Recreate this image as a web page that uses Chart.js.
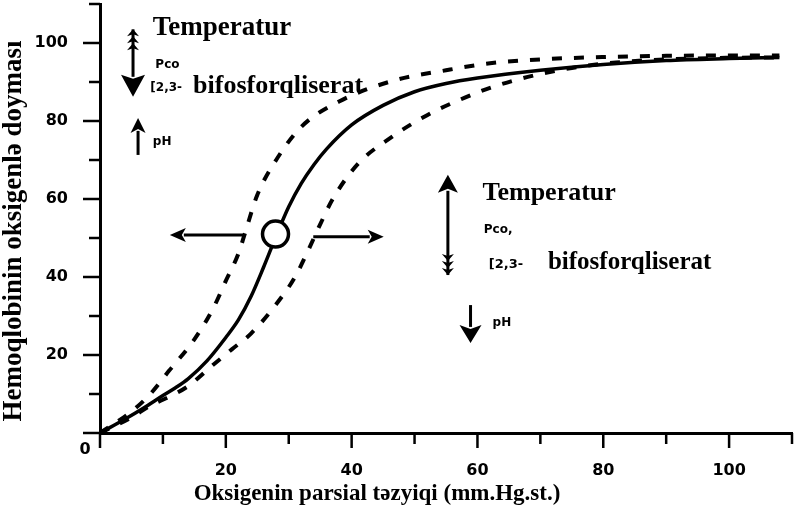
<!DOCTYPE html>
<html>
<head>
<meta charset="utf-8">
<script src="https://cdn.jsdelivr.net/npm/chart.js@4.4.1/dist/chart.umd.min.js"></script>
<style>
  html, body { margin: 0; padding: 0; background: #fff; }
  #wrap { width: 794px; height: 517px; }
</style>
</head>
<body>
<div id="wrap"><canvas id="curveChart" width="794" height="517"></canvas></div>
<script>
// normal curve
const solidX = [0, 4, 7, 10, 12, 14, 17, 20, 22, 24, 26, 28, 30, 32, 34, 36, 40, 45, 50, 55, 60, 70, 80, 90, 100, 108];
const solidY = [0, 3.6, 6.5, 9.6, 11.6, 13.9, 18.5, 24.5, 29, 35, 42.5, 50.5, 58, 64, 68.8, 72.8, 79, 84, 87.5, 89.6, 91, 93, 94.5, 95.5, 96, 96.3];

// shifted left
const leftX = [0, 5, 8, 11, 15, 18, 20, 22, 23, 25, 28, 32, 38, 47, 55, 62, 70, 80, 90, 100, 108];
const leftY = [0, 5.5, 10, 16, 24, 32, 39, 46, 51, 61, 70, 78.5, 85, 90.5, 93, 94.8, 95.8, 96.4, 96.7, 96.8, 96.8];

// shifted right
const rightX = [0, 5, 8, 11, 14, 18, 21, 24, 28, 31, 33, 35, 37, 41, 46, 52, 58, 62, 68, 75, 82, 90, 100, 108];
const rightY = [0, 4, 7, 9.3, 12, 17.5, 21.5, 25.5, 33, 40, 46.5, 53.5, 60, 69, 75.5, 81.5, 86, 88.5, 91.3, 93.6, 95, 95.8, 96.2, 96.3];

// P50 point
const p50X = [27.9];
const p50Y = [51];

const tickLabels = [20, 40, 60, 80, 100];

const LINE_COLOR = '#000';
const SERIF = '"Liberation Serif", "DejaVu Serif", serif';
const SANS = '"DejaVu Sans", "Liberation Sans", sans-serif';

const toPoints = function (xs, ys) {
    return xs.map(function (x, i) {
        return { x: x, y: ys[i] };
    });
}

// annotation arrows, in data units: tail -> tip
const arrows = [
    { from: [5.25, 103.5], to: [5.25, 86.2], head: [22, 24], fletch: true },
    { from: [6.05, 71.3], to: [6.05, 80.8], head: [15, 15] },
    { from: [55.3, 40.5], to: [55.3, 66.2], head: [18, 20], fletch: true },
    { from: [58.9, 32.8], to: [58.9, 23.1], head: [18, 22] },
    { from: [22.8, 50.8], to: [11.1, 50.8], head: [16, 14] },
    { from: [33.9, 50.3], to: [45.1, 50.3], head: [16, 14] }
];

// annotation texts, left-middle anchored, in data units
const notes = [
    { text: 'Temperatur', at: [8.4, 103.8], font: 'bold 27px ' + SERIF },
    { text: 'Pco', at: [8.8, 94.4], font: 'bold 12px ' + SANS },
    { text: '[2,3-', at: [8.0, 88.6], font: 'bold 12px ' + SANS },
    { text: 'bifosforqliserat', at: [14.8, 89], font: 'bold 26px ' + SERIF },
    { text: 'pH', at: [8.4, 74.6], font: 'bold 12px ' + SANS },
    { text: 'Temperatur', at: [60.8, 61.5], font: 'bold 26px ' + SERIF },
    { text: 'Pco,', at: [61.0, 52], font: 'bold 12px ' + SANS },
    { text: '[2,3-', at: [61.8, 43.3], font: 'bold 13px ' + SANS },
    { text: 'bifosforqliserat', at: [71.2, 43.6], font: 'bold 25px ' + SERIF },
    { text: 'pH', at: [62.4, 28.2], font: 'bold 12px ' + SANS }
];

const drawArrow = function (ctx, x1, y1, x2, y2, head, fletch) {
    const len = Math.hypot(x2 - x1, y2 - y1);
    const hl = head[0], hw = head[1];
    ctx.save();
    ctx.translate(x1, y1);
    ctx.rotate(Math.atan2(y2 - y1, x2 - x1));
    ctx.strokeStyle = LINE_COLOR;
    ctx.fillStyle = LINE_COLOR;
    ctx.lineWidth = 3;
    ctx.beginPath();
    ctx.moveTo(0, 0);
    ctx.lineTo(len - hl + 2, 0);
    ctx.stroke();
    ctx.beginPath();
    ctx.moveTo(len, 0);
    ctx.lineTo(len - hl, -hw / 2);
    ctx.lineTo(len - hl + 4, 0);
    ctx.lineTo(len - hl, hw / 2);
    ctx.closePath();
    ctx.fill();
    if (fletch) {
        for (let i = 0; i < 3; i++) {
            const s = i * 7;
            ctx.beginPath();
            ctx.moveTo(s, 0);
            ctx.lineTo(s + 7, -6);
            ctx.lineTo(s + 5, 0);
            ctx.lineTo(s + 7, 6);
            ctx.closePath();
            ctx.fill();
        }
    }
    ctx.restore();
}

const overlayPlugin = {
    id: 'overlay',
    afterDraw: function (chart) {
        const ctx = chart.ctx;
        const xs = chart.scales.x, ys = chart.scales.y;
        const area = chart.chartArea;

        // tick marks
        ctx.save();
        ctx.strokeStyle = LINE_COLOR;
        ctx.lineWidth = 2.5;
        for (let v = 0; v <= 110; v += 10) {
            const major = v % 20 === 0;
            const py = ys.getPixelForValue(v);
            ctx.beginPath();
            ctx.moveTo(area.left - (major ? 17 : 11), py);
            ctx.lineTo(area.left, py);
            ctx.stroke();
            const px = xs.getPixelForValue(v);
            ctx.beginPath();
            ctx.moveTo(px, area.bottom);
            ctx.lineTo(px, area.bottom + (major ? 15 : 11));
            ctx.stroke();
        }
        ctx.restore();

        arrows.forEach(function (a) {
            drawArrow(ctx,
                xs.getPixelForValue(a.from[0]), ys.getPixelForValue(a.from[1]),
                xs.getPixelForValue(a.to[0]), ys.getPixelForValue(a.to[1]),
                a.head, a.fletch);
        });

        ctx.save();
        ctx.fillStyle = LINE_COLOR;
        ctx.textAlign = 'left';
        ctx.textBaseline = 'middle';
        notes.forEach(function (n) {
            ctx.font = n.font;
            ctx.fillText(n.text, xs.getPixelForValue(n.at[0]), ys.getPixelForValue(n.at[1]));
        });

        // origin label
        ctx.font = 'bold 16px ' + SANS;
        ctx.textAlign = 'center';
        ctx.fillText('0', area.left - 15, area.bottom + 17);

        // axis titles
        ctx.font = 'bold 23px ' + SERIF;
        ctx.fillText('Oksigenin parsial təzyiqi (mm.Hg.st.)', 377, 494);
        ctx.translate(14, 231);
        ctx.rotate(-Math.PI / 2);
        ctx.font = 'bold 27px ' + SERIF;
        ctx.fillText('Hemoqlobinin oksigenlə doyması', 0, 0);
        ctx.restore();
    }
};

const tickCallback = function (value) {
    return tickLabels.indexOf(value) >= 0 ? String(value) : '';
}

const noPadding = function (scale) {
    scale.paddingTop = 0;
    scale.paddingBottom = 0;
    scale.paddingLeft = 0;
    scale.paddingRight = 0;
}

const curveChart = new Chart(document.getElementById('curveChart'), {
    type: 'line',
    data: {
        datasets: [
            {
                label: 'P50',
                data: toPoints(p50X, p50Y),
                showLine: false,
                pointRadius: 13,
                pointBorderWidth: 3.5,
                pointBorderColor: LINE_COLOR,
                pointBackgroundColor: '#fff'
            },
            {
                label: 'Normal',
                data: toPoints(solidX, solidY),
                borderColor: LINE_COLOR,
                borderWidth: 3.5,
                pointRadius: 0,
                cubicInterpolationMode: 'monotone',
                fill: false
            },
            {
                label: 'Sola',
                data: toPoints(leftX, leftY),
                borderColor: LINE_COLOR,
                borderWidth: 4,
                borderDash: [10, 12],
                pointRadius: 0,
                cubicInterpolationMode: 'monotone',
                fill: false
            },
            {
                label: 'Sağa',
                data: toPoints(rightX, rightY),
                borderColor: LINE_COLOR,
                borderWidth: 4,
                borderDash: [10, 12],
                pointRadius: 0,
                cubicInterpolationMode: 'monotone',
                fill: false
            }
        ]
    },
    options: {
        responsive: false,
        animation: false,
        layout: { autoPadding: false, padding: { top: 4, right: 2, left: 0, bottom: 0 } },
        plugins: {
            legend: { display: false },
            tooltip: { enabled: false }
        },
        scales: {
            x: {
                type: 'linear',
                min: 0,
                max: 110,
                grid: { display: false },
                border: { display: true, color: LINE_COLOR, width: 3 },
                ticks: {
                    stepSize: 10,
                    autoSkip: false,
                    maxRotation: 0,
                    padding: 20,
                    color: LINE_COLOR,
                    font: { family: SANS, size: 16, weight: 'bold' },
                    callback: tickCallback
                },
                afterFit: function (scale) {
                    scale.height = 84;
                    noPadding(scale);
                }
            },
            y: {
                type: 'linear',
                min: 0,
                max: 110,
                grid: { display: false },
                border: { display: true, color: LINE_COLOR, width: 3 },
                ticks: {
                    stepSize: 10,
                    autoSkip: false,
                    padding: 24,
                    color: LINE_COLOR,
                    font: { family: SANS, size: 16, weight: 'bold' },
                    callback: tickCallback
                },
                afterFit: function (scale) {
                    scale.width = 100;
                    noPadding(scale);
                }
            }
        }
    },
    plugins: [overlayPlugin]
});
</script>
</body>
</html>
